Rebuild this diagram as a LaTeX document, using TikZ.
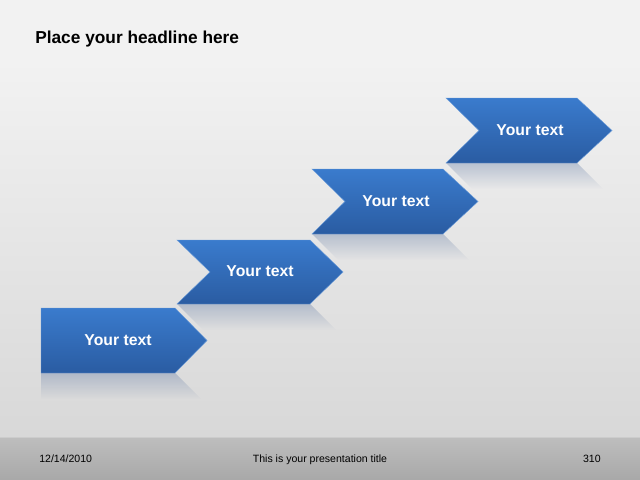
\documentclass[tikz,border=0pt]{standalone}
\usepackage{fontspec}
\setmainfont{Liberation Sans}
\usetikzlibrary{fadings}

\definecolor{chevtop}{RGB}{58,123,205}
\definecolor{chevbot}{RGB}{42,92,162}
\definecolor{mirror}{RGB}{110,132,170}
\definecolor{bgtop}{RGB}{242,242,242}
\definecolor{bgbot}{RGB}{216,216,216}
\definecolor{foottop}{RGB}{190,190,190}
\definecolor{footbot}{RGB}{168,168,168}

\tikzset{
	chev/.style={top color=chevtop, bottom color=chevbot, draw=chevtop!75!white, line width=0.3pt},
	mirrorshade/.style={fill=mirror, fill opacity=0.4, path fading=south},
	chevtext/.style={text=white, font=\fontsize{11.2}{13}\selectfont\bfseries},
	foottext/.style={font=\fontsize{7.5}{9}\selectfont, text=black, inner sep=0pt}
}

\begin{document}
\begin{tikzpicture}[x=0.025cm, y=-0.025cm]

	\useasboundingbox (0,0) rectangle (640,480);
	\fill[bgtop] (0,0) rectangle (640,60);
	\shade[top color=bgtop, bottom color=bgbot] (0,60) rectangle (640,437);
	\shade[top color=foottop, bottom color=footbot] (0,437) rectangle (640,480);
	\draw[white!80!black, line width=0.4pt] (0,437) -- (640,437);

	\node[anchor=base west, inner sep=0pt, font=\fontsize{12.3}{14}\selectfont\bfseries] (headline) at (35,44) {Place your headline here};

	% step one, flat back
	\begin{scope}[shift={(41,308)}]
		\fill[mirrorshade] (0,65) -- (134,65) -- (160,91) -- (0,91) -- cycle;
		\path[chev] (0,0) -- (134,0) -- (166,32.5) -- (134,65) -- (0,65) -- cycle;
		\node[chevtext] (step1) at (77,32) {Your text};
	\end{scope}

	\begin{scope}[shift={(177,240)}]
		\fill[mirrorshade] (0,64) -- (133,64) -- (159,90) -- (26,90) -- cycle;
		\path[chev] (0,0) -- (133,0) -- (166,32) -- (133,64) -- (0,64) -- (33,32) -- cycle;
		\node[chevtext] (step2) at (83,31) {Your text};
	\end{scope}

	\begin{scope}[shift={(312,169)}]
		\fill[mirrorshade] (0,65) -- (131,65) -- (157,91) -- (26,91) -- cycle;
		\path[chev] (0,0) -- (131,0) -- (166,32.5) -- (131,65) -- (0,65) -- (33,32.5) -- cycle;
		\node[chevtext] (step3) at (84,32) {Your text};
	\end{scope}

	\begin{scope}[shift={(446,98)}]
		\fill[mirrorshade] (0,65) -- (131,65) -- (157,91) -- (26,91) -- cycle;
		\path[chev] (0,0) -- (131,0) -- (166,32.5) -- (131,65) -- (0,65) -- (33,32.5) -- cycle;
		\node[chevtext] (step4) at (84,32) {Your text};
	\end{scope}

	% footer
	\node[foottext, anchor=base west] (date) at (39,462) {12/14/2010};
	\node[foottext, anchor=base] (title) at (320,462) {This is your presentation title};
	\node[foottext, anchor=base east] (page) at (601,462) {310};

\end{tikzpicture}
\end{document}
